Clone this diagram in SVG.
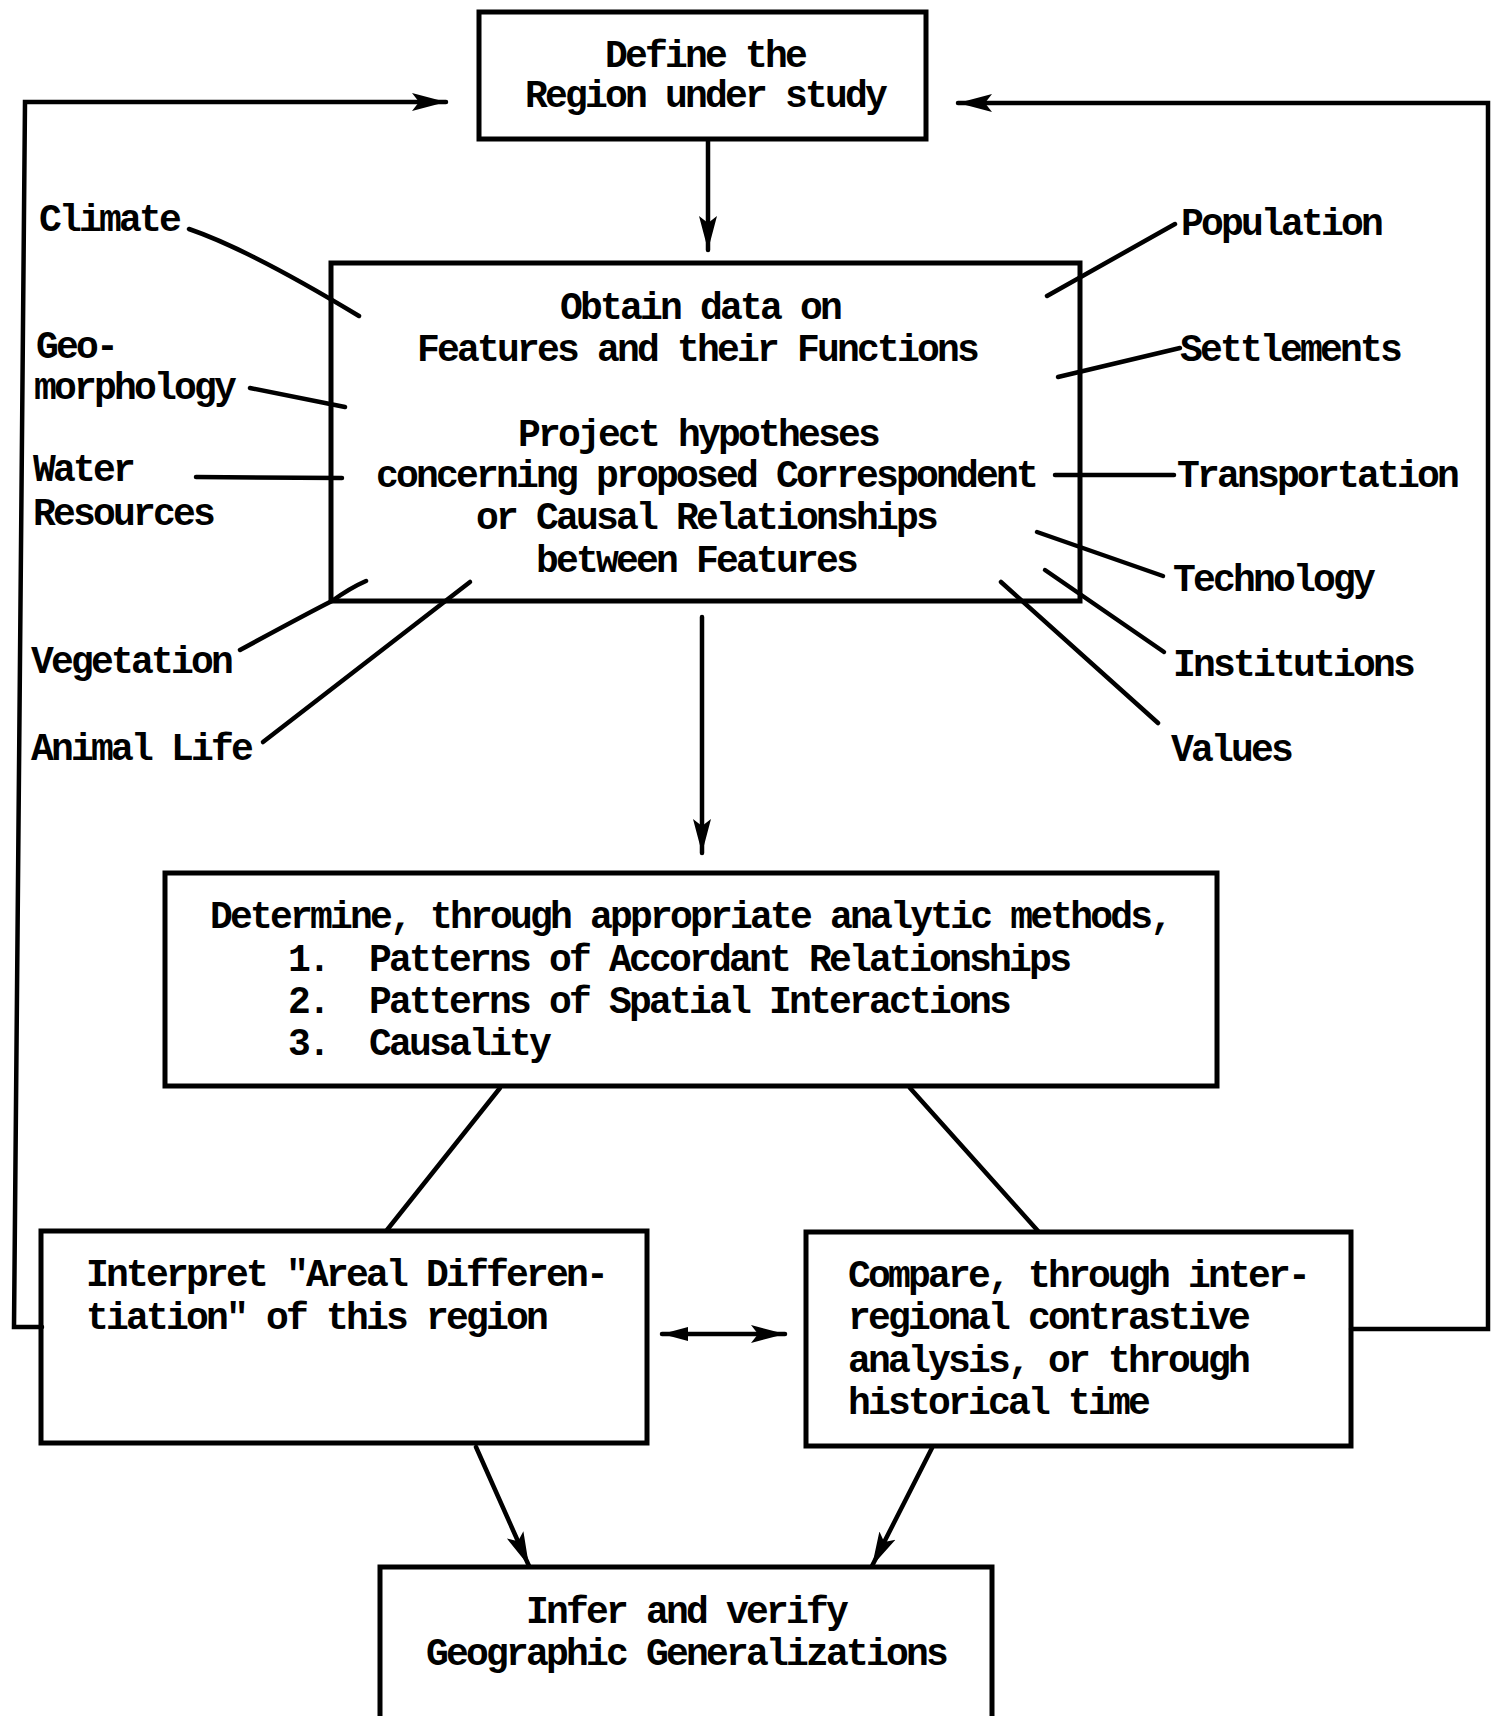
<svg xmlns="http://www.w3.org/2000/svg" width="1497" height="1716" viewBox="0 0 1497 1716">
<style>
.box{fill:none;stroke:#000;stroke-width:5;stroke-linejoin:miter}
.t{font-family:"Liberation Mono","Courier New",monospace;font-weight:bold;font-size:38px;letter-spacing:-2.8px;fill:#000}
.c{stroke:#000;stroke-width:4.5;fill:none;stroke-linecap:round;stroke-linejoin:miter}
</style>
<defs>
<marker id="ah" markerUnits="userSpaceOnUse" markerWidth="36" markerHeight="22" refX="34" refY="11" orient="auto">
<path d="M0,2 L34,11 L0,20 L7,11 Z" fill="#000"/>
</marker>
<marker id="ahs" markerUnits="userSpaceOnUse" markerWidth="34" markerHeight="20" refX="32" refY="10" orient="auto-start-reverse">
<path d="M6,3 L32,10 L6,17 Z" fill="#000"/>
</marker>
</defs>
<rect width="1497" height="1716" fill="#fff"/>

<g id="connectors">
<polyline class="c" points="42,1327 14,1327 25,102 446,102" marker-end="url(#ah)"/>
<polyline class="c" points="1351,1329 1488,1329 1488,103 958,103" marker-end="url(#ah)"/>
<line class="c" x1="708" y1="140" x2="708" y2="250" marker-end="url(#ah)"/>
<line class="c" x1="702" y1="617" x2="702" y2="853" marker-end="url(#ah)"/>
<line class="c" x1="500" y1="1088" x2="387" y2="1230"/>
<line class="c" x1="910" y1="1088" x2="1038" y2="1231"/>
<line class="c" x1="476" y1="1447" x2="529" y2="1566" marker-end="url(#ah)"/>
<line class="c" x1="932" y1="1448" x2="872" y2="1566" marker-end="url(#ah)"/>
<line class="c" x1="662" y1="1334" x2="785" y2="1334" marker-start="url(#ahs)" marker-end="url(#ah)"/>
<path class="c" d="M189,229 Q250,250 359,316"/>
<line class="c" x1="250" y1="388" x2="345" y2="407"/>
<line class="c" x1="196" y1="477" x2="342" y2="478"/>
<path class="c" d="M240,650 Q310,612 332,601 Q350,588 366,581"/>
<line class="c" x1="263" y1="742" x2="470" y2="582"/>
<line class="c" x1="1047" y1="296" x2="1175" y2="224"/>
<line class="c" x1="1058" y1="377" x2="1180" y2="348"/>
<line class="c" x1="1055" y1="475" x2="1174" y2="475"/>
<line class="c" x1="1037" y1="532" x2="1163" y2="576"/>
<line class="c" x1="1045" y1="570" x2="1164" y2="652"/>
<line class="c" x1="1001" y1="582" x2="1158" y2="723"/>
</g>

<g id="define-region">
<rect class="box" x="479" y="12" width="447" height="127"/>
<text class="t" x="705" y="67" text-anchor="middle">Define the</text>
<text class="t" x="705" y="107" text-anchor="middle">Region under study</text>
</g>

<g id="obtain-data">
<rect class="box" x="331" y="263" width="749" height="338"/>
<text class="t" x="700" y="319" text-anchor="middle">Obtain data on</text>
<text class="t" x="697" y="361" text-anchor="middle">Features and their Functions</text>
<text class="t" x="698" y="446" text-anchor="middle">Project hypotheses</text>
<text class="t" x="706" y="487" text-anchor="middle">concerning proposed Correspondent</text>
<text class="t" x="706" y="529" text-anchor="middle">or Causal Relationships</text>
<text class="t" x="696" y="572" text-anchor="middle">between Features</text>
</g>

<g id="physical-features">
<text class="t" x="39" y="231">Climate</text>
<text class="t" x="36" y="358">Geo-</text>
<text class="t" x="34" y="399">morphology</text>
<text class="t" x="33" y="481">Water</text>
<text class="t" x="33" y="525">Resources</text>
<text class="t" x="31" y="673">Vegetation</text>
<text class="t" x="31" y="760">Animal Life</text>
</g>

<g id="human-features">
<text class="t" x="1181" y="235">Population</text>
<text class="t" x="1180" y="361">Settlements</text>
<text class="t" x="1177" y="487">Transportation</text>
<text class="t" x="1173" y="591">Technology</text>
<text class="t" x="1173" y="676">Institutions</text>
<text class="t" x="1171" y="761">Values</text>
</g>

<g id="determine">
<rect class="box" x="165" y="873" width="1052" height="213"/>
<text class="t" x="210" y="928">Determine, through appropriate analytic methods,</text>
<text class="t" x="288" y="971">1.</text>
<text class="t" x="369" y="971">Patterns of Accordant Relationships</text>
<text class="t" x="288" y="1013">2.</text>
<text class="t" x="369" y="1013">Patterns of Spatial Interactions</text>
<text class="t" x="288" y="1055">3.</text>
<text class="t" x="369" y="1055">Causality</text>
</g>

<g id="interpret">
<rect class="box" x="41" y="1231" width="606" height="212"/>
<text class="t" x="86" y="1286">Interpret "Areal Differen-</text>
<text class="t" x="86" y="1329">tiation" of this region</text>
</g>

<g id="compare">
<rect class="box" x="806" y="1232" width="545" height="214"/>
<text class="t" x="848" y="1287">Compare, through inter-</text>
<text class="t" x="848" y="1329">regional contrastive</text>
<text class="t" x="848" y="1372">analysis, or through</text>
<text class="t" x="848" y="1414">historical time</text>
</g>

<g id="infer">
<rect class="box" x="380" y="1567" width="612" height="160"/>
<text class="t" x="686" y="1623" text-anchor="middle">Infer and verify</text>
<text class="t" x="686" y="1665" text-anchor="middle">Geographic Generalizations</text>
</g>
</svg>
